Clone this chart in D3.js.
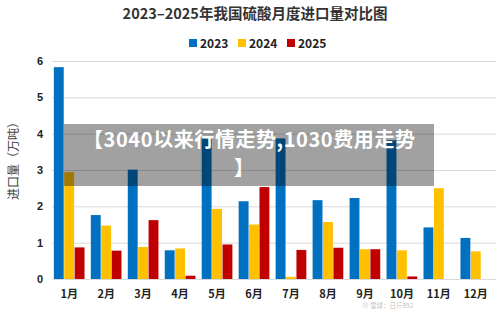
<!DOCTYPE html>
<html>
<head>
<meta charset="utf-8">
<script src="https://cdn.jsdelivr.net/npm/d3@7"></script>
<style>
  body { margin: 0; background: #fff; }
  svg { display: block; font-family: "Noto Sans CJK SC", "Noto Sans", sans-serif; }
</style>
</head>
<body>
<div id="chart"></div>
<script>
// data (万吨)
var months = ["1月", "2月", "3月", "4月", "5月", "6月", "7月", "8月", "9月", "10月", "11月", "12月"];
var years = ["2023", "2024", "2025"];
var v2023 = [5.83, 1.76, 3.01, 0.79, 3.86, 2.14, 3.87, 2.17, 2.23, 3.82, 1.42, 1.13];
var v2024 = [2.94, 1.47, 0.88, 0.84, 1.93, 1.50, 0.06, 1.57, 0.82, 0.79, 2.50, 0.76];
var v2025 = [0.87, 0.78, 1.62, 0.09, 0.95, 2.53, 0.80, 0.86, 0.82, 0.07, null, null];
var yTicks = [0, 1, 2, 3, 4, 5, 6];

var colors = ["#0070C0", "#FFC000", "#C00000"];
var series = [v2023, v2024, v2025];

var width = 500, height = 310;
var margin = {top: 61, right: 7, bottom: 31, left: 52};

var svg = d3.select("#chart").append("svg")
    .attr("width", width)
    .attr("height", height);

var x = d3.scaleBand()
    .domain(months)
    .range([margin.left, width - margin.right])
    .paddingInner(0.17)
    .paddingOuter(0.05);

var xs = d3.scaleBand()
    .domain(years)
    .range([0, x.bandwidth()])
    .paddingInner(0.05);

var y = d3.scaleLinear()
    .domain([0, 6])
    .range([height - margin.bottom, margin.top]);

// title
svg.append("text")
    .attr("x", 255)
    .attr("y", 19)
    .attr("text-anchor", "middle")
    .style("font-size", "14.5px")
    .style("font-weight", "bold")
    .style("fill", "#333")
    .text("2023–2025年我国硫酸月度进口量对比图");

// legend
var legend = svg.append("g").attr("transform", "translate(189,43)");
var lx = [0, 49, 98];
years.forEach(function(yr, i) {
    legend.append("rect")
        .attr("x", lx[i]).attr("y", -4)
        .attr("width", 8).attr("height", 8)
        .attr("fill", colors[i]);
    legend.append("text")
        .attr("x", lx[i] + 11).attr("y", 4.5)
        .style("font-size", "12px")
        .style("font-weight", "bold")
        .style("fill", "#222")
        .text(yr);
});

// grid
var yAxis = d3.axisLeft(y).tickValues(yTicks)
    .tickSize(-(width - margin.right - margin.left + 3))
    .tickPadding(9)
    .tickFormat(d3.format("d"));

var gy = svg.append("g")
    .attr("transform", "translate(" + margin.left + ",0)")
    .call(yAxis);
gy.select(".domain").remove();
gy.selectAll("line").attr("stroke", "#d9d9d9");
gy.selectAll("text")
    .style("font-size", "11px")
    .style("font-weight", "bold")
    .style("fill", "#222")
    .style("font-family", "'Liberation Sans', sans-serif");

// x labels
var xAxis = d3.axisBottom(x).tickSize(0).tickPadding(11);
var gx = svg.append("g")
    .attr("transform", "translate(0," + (height - margin.bottom) + ")")
    .call(xAxis);
gx.select(".domain").attr("stroke", "#d9d9d9");
gx.selectAll("text")
    .style("font-size", "11px")
    .style("font-weight", "bold")
    .style("fill", "#222")
    .style("font-family", "'Noto Sans CJK SC', sans-serif");

// y axis title
svg.append("text")
    .attr("transform", "translate(18,158) rotate(-90)")
    .attr("text-anchor", "middle")
    .style("font-size", "12px")
    .style("fill", "#444")
    .text("进口量（万吨）");

// bars
var groups = svg.append("g").selectAll("g")
    .data(months)
    .enter().append("g")
    .attr("transform", function(d) { return "translate(" + x(d) + ",0)"; });

groups.selectAll("rect")
    .data(function(d, i) {
        return years.map(function(yr, j) { return {year: yr, value: series[j][i], c: colors[j]}; })
            .filter(function(e) { return e.value != null; });
    })
    .enter().append("rect")
    .attr("x", function(d) { return xs(d.year); })
    .attr("width", xs.bandwidth())
    .attr("y", function(d) { return y(d.value); })
    .attr("height", function(d) { return y(0) - y(d.value); })
    .attr("fill", function(d) { return d.c; });

// watermark (faint), kept just under the month labels
svg.append("text")
    .attr("x", 362).attr("y", 308)
    .style("font-size", "6.5px")
    .style("fill", "#c4c4c4")
    .text("⑬ 雪球：日斤892");

// grey banner across the plot
svg.append("rect")
    .attr("x", 64).attr("y", 124)
    .attr("width", 370).attr("height", 62)
    .attr("fill", "rgba(0,0,0,0.37)");

svg.append("text")
    .attr("x", 83).attr("y", 147)
    .attr("textLength", 332)
    .attr("lengthAdjust", "spacing")
    .style("font-size", "20px")
    .style("font-weight", "bold")
    .style("fill", "#fff")
    .text("【3040以来行情走势,1030费用走势");

svg.append("text")
    .attr("x", 234).attr("y", 175)
    .style("font-size", "20px")
    .style("font-weight", "bold")
    .style("fill", "#fff")
    .text("】");
</script>
</body>
</html>
